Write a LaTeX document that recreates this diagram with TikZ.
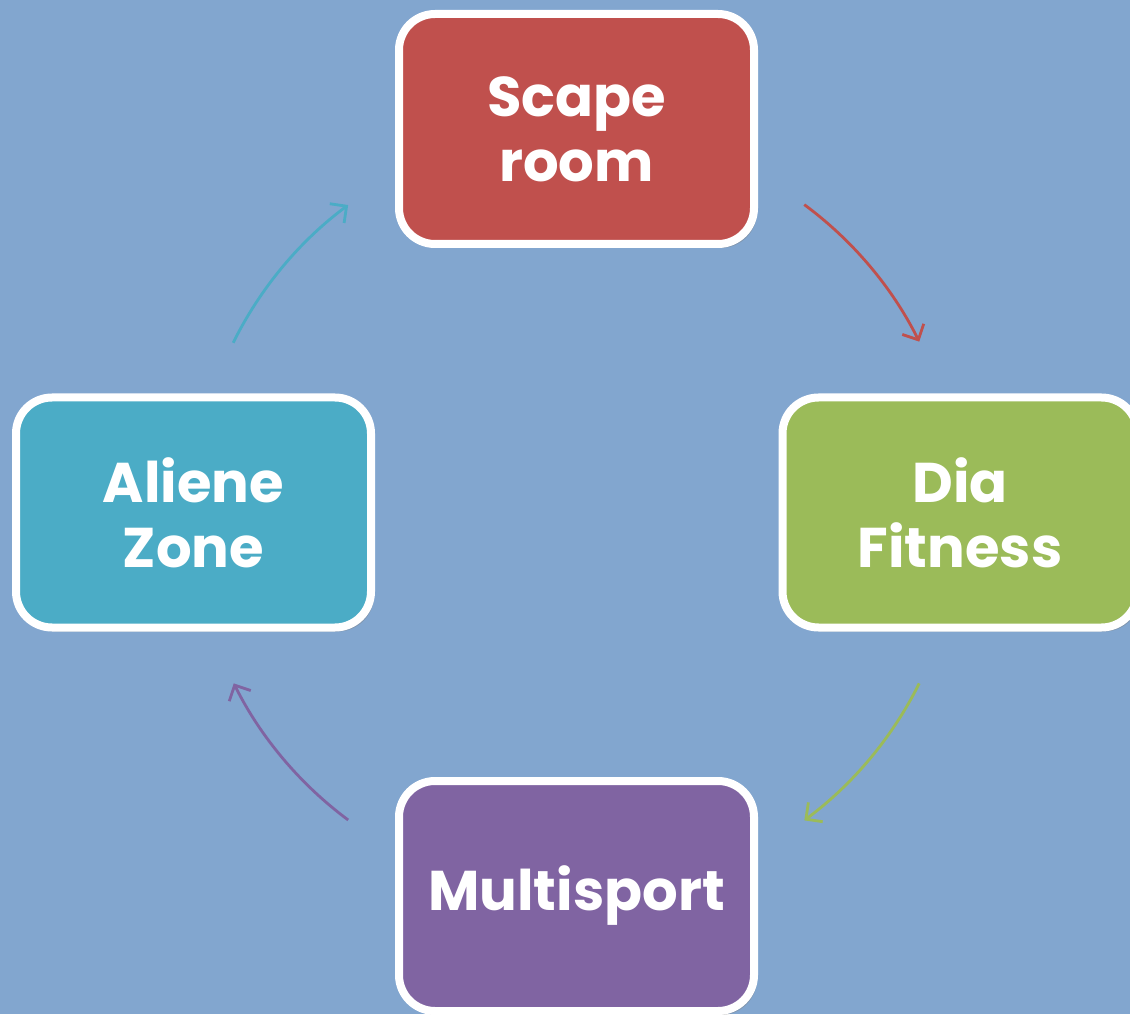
\documentclass[tikz,border=0pt]{standalone}
\usepackage{fontspec}
\setmainfont{Poppins}
\usetikzlibrary{arrows.meta,shadows}

\definecolor{bgblue}{HTML}{82A6CF}
\definecolor{boxred}{HTML}{C0504D}
\definecolor{boxgreen}{HTML}{9BBB59}
\definecolor{boxpurple}{HTML}{8064A2}
\definecolor{boxcyan}{HTML}{4BACC6}

\tikzset{
  stagebox/.style={draw=white, line width=4pt, rounded corners=18pt,
    minimum width=177.5pt, minimum height=115pt, align=center,
    text=white, font=\fontsize{28}{32.5}\selectfont\bfseries,
    drop shadow={opacity=0.4, shadow xshift=1.5pt, shadow yshift=-2pt}},
  cyclearrow/.style={line width=1.4pt, -{Straight Barb[length=6pt,width=12pt]}}
}

\begin{document}
\begin{tikzpicture}[x=0.5pt,y=0.5pt]
            \useasboundingbox (0,0) rectangle (1130,1014);
            \fill[bgblue] (0,0) rectangle (1130,1014);
            \clip (0,0) rectangle (1130,1014);

            \node[stagebox, fill=boxred] (scape) at (576.5,885) {Scape\\room};
            \node[stagebox, fill=boxgreen] (dia) at (960,501.5) {Dia\\Fitness};
            \node[stagebox, fill=boxpurple] (multi) at (576.5,118) {Multisport};
            \node[stagebox, fill=boxcyan] (aliene) at (193.5,501.5) {Aliene\\Zone};

            \coordinate (cen) at (576.5,501.5);
            \draw[cyclearrow, boxred] (cen) ++(53.5:383) arc[start angle=53.5, end angle=26.5, radius=383];
            \draw[cyclearrow, boxgreen] (cen) ++(333.5:383) arc[start angle=333.5, end angle=306.5, radius=383];
            \draw[cyclearrow, boxpurple] (cen) ++(233.4:383) arc[start angle=233.4, end angle=206.5, radius=383];
            \draw[cyclearrow, boxcyan] (cen) ++(153.7:383) arc[start angle=153.7, end angle=126.6, radius=383];

        \end{tikzpicture}
\end{document}
